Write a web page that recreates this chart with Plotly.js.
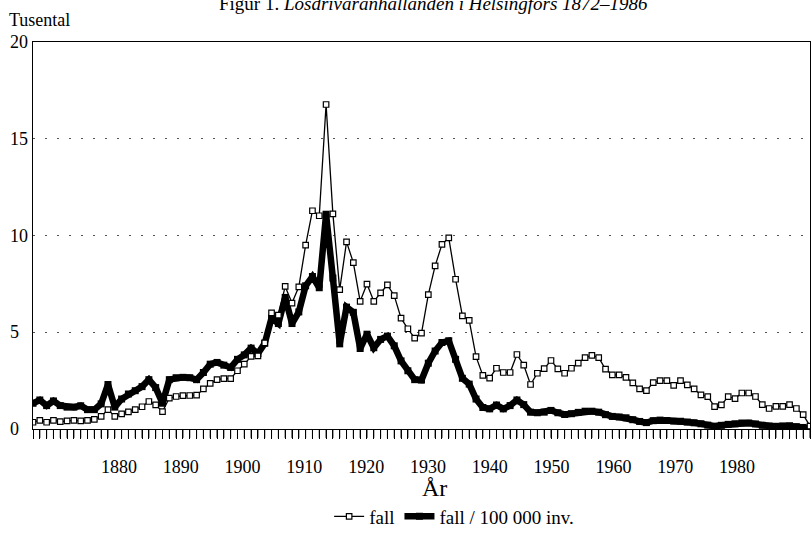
<!DOCTYPE html>
<html><head><meta charset="utf-8">
<script src="https://cdn.plot.ly/plotly-3.0.1.min.js"></script>
<style>html,body{margin:0;padding:0;background:#fff}#chart{width:812px;height:538px}</style>
</head><body><div id="chart"></div>
<script>
const firstYear = 1872;
const lastYear = 1986;

// fall (tusental), 1872–1986
const fall = [
  0.35,0.45,0.35,0.45,0.38,0.42,0.45,0.42,0.45,0.5,
  0.65,1.0,0.65,0.78,0.88,1.0,1.15,1.42,1.25,0.9,
  1.6,1.68,1.72,1.73,1.75,2.07,2.36,2.55,2.6,2.6,
  3.01,3.35,3.75,3.78,4.45,6.0,5.88,7.37,6.51,7.35,
  9.5,11.28,11.02,16.77,11.12,7.2,9.67,8.6,6.6,7.49,
  6.6,7.03,7.45,6.89,5.73,5.18,4.7,4.95,6.94,8.43,
  9.54,9.88,7.74,5.85,5.61,3.74,2.77,2.63,3.14,2.92,
  2.92,3.85,3.3,2.3,2.88,3.12,3.54,3.11,2.88,3.14,
  3.4,3.69,3.8,3.69,3.09,2.8,2.8,2.67,2.38,2.07,
  1.98,2.4,2.5,2.5,2.25,2.5,2.28,2.07,1.76,1.67,
  1.16,1.25,1.67,1.57,1.86,1.86,1.68,1.26,1.06,1.17,
  1.17,1.26,1.06,0.74,0.15
];

// fall / 100 000 inv. (tusental), 1872–1986
const fallPer100k = [
  1.33,1.5,1.21,1.45,1.21,1.13,1.13,1.2,1.0,1.0,
  1.3,2.3,1.13,1.55,1.81,1.98,2.19,2.55,2.14,1.33,
  2.55,2.65,2.67,2.65,2.55,2.92,3.35,3.44,3.3,3.18,
  3.6,3.83,4.18,3.9,4.43,5.74,5.45,6.8,5.45,6.05,
  7.4,7.88,7.3,11.1,7.8,4.4,6.3,6.03,4.16,4.9,
  4.2,4.63,4.8,4.3,3.52,3.01,2.55,2.53,3.4,4.03,
  4.47,4.56,3.6,2.62,2.32,1.55,1.11,1.04,1.24,1.04,
  1.21,1.5,1.26,0.87,0.84,0.87,0.96,0.84,0.75,0.79,
  0.86,0.92,0.92,0.87,0.74,0.65,0.62,0.58,0.48,0.39,
  0.33,0.43,0.46,0.44,0.41,0.4,0.36,0.32,0.27,0.2,
  0.14,0.19,0.24,0.27,0.31,0.31,0.26,0.19,0.16,0.14,
  0.16,0.17,0.12,0.08,0.0
];

const yTicks = [0, 5, 10, 15, 20];
const yTickText = ['0', '5', '10', '15', '20'];
const xLabelYears = [1880, 1890, 1900, 1910, 1920, 1930, 1940, 1950, 1960, 1970, 1980];
const xLabelText = ['1880','1890','1900','1910','1920','1930','1940','1950','1960','1970','1980'];

const years = [];
for (let y = firstYear; y <= lastYear; y++) years.push(y);

const serif = '"Liberation Serif", "DejaVu Serif", serif';

const traces = [
  {
    x: years, y: fallPer100k, name: 'fall / 100 000 inv.',
    type: 'scatter', mode: 'lines+markers',
    line: {color: '#000', width: 6.5},
    marker: {symbol: 'square', size: 7, color: '#000'},
    hoverinfo: 'skip'
  },
  {
    x: years, y: fall, name: 'fall',
    type: 'scatter', mode: 'lines+markers',
    line: {color: '#000', width: 1.3},
    marker: {symbol: 'square', size: 5.5, color: '#fff', line: {color: '#000', width: 1.2}},
    hoverinfo: 'skip'
  },
  {
    x: [], y: [], xaxis: 'x2', yaxis: 'y', type: 'scatter', mode: 'lines',
    showlegend: false, hoverinfo: 'skip'
  }
];

// one short tick mark below the axis for every year, placed by the x axis scale
const yearTickShapes = years.map(yr => ({
  type: 'line', xref: 'x', yref: 'paper',
  x0: yr, x1: yr, y0: 0, y1: -0.023,
  line: {color: '#000', width: 1}
}));

const yLabelAnns = yTicks.map((v, i) => ({
  text: yTickText[i], xref: 'paper', yref: 'y', x: -0.032, y: v,
  xanchor: 'left', yanchor: 'middle', showarrow: false,
  font: {family: serif, size: 18, color: '#000'}
}));

const textAnns = [
  {
    text: 'Figur 1. <i>Lösdrivaranhållanden i Helsingfors 1872–1986</i>',
    xref: 'paper', yref: 'paper', x: 0.516, y: 1.066, xanchor: 'center', yanchor: 'bottom',
    showarrow: false, font: {family: serif, size: 19, color: '#000'}
  },
  {
    text: 'Tusental', xref: 'paper', yref: 'paper', x: -0.034, y: 1.056,
    xanchor: 'left', yanchor: 'middle', showarrow: false,
    font: {family: serif, size: 18, color: '#000'}
  },
  {
    text: 'År', xref: 'paper', yref: 'paper', x: 0.517, y: -0.152,
    xanchor: 'center', yanchor: 'middle', showarrow: false,
    font: {family: serif, size: 24, color: '#000'}
  }
].concat(yLabelAnns);

const layout = {
  width: 812, height: 538,
  margin: {l: 33, r: 2, t: 42, b: 106},
  font: {family: serif, color: '#000', size: 18},
  showlegend: true,
  legend: {
    orientation: 'h', x: 0.542, xanchor: 'center', y: -0.226, yanchor: 'middle',
    traceorder: 'reversed', font: {family: serif, size: 19, color: '#000'},
    itemwidth: 30
  },
  xaxis: {
    range: [firstYear, lastYear], showline: true, mirror: true,
    linecolor: '#000', linewidth: 1,
    tickmode: 'linear', ticks: 'outside', tick0: firstYear, dtick: 1,
    ticklen: 9, tickwidth: 1, tickcolor: '#000',
    showticklabels: false, showgrid: false, zeroline: false
  },
  xaxis2: {
    overlaying: 'x', anchor: 'y', side: 'bottom',
    range: [1866.1, 1991.8],
    tickmode: 'array', tickvals: xLabelYears, ticktext: xLabelText,
    ticks: '', showline: false, showgrid: false, zeroline: false,
    tickfont: {family: serif, size: 18, color: '#000'},
    ticklabelstandoff: 25
  },
  yaxis: {
    range: [0, 20], tickmode: 'array', tickvals: yTicks,
    showline: true, mirror: true, linecolor: '#000', linewidth: 1,
    ticks: '', showticklabels: false,
    showgrid: true, gridcolor: '#555', gridwidth: 1, griddash: '2px,10px',
    zeroline: false
  },
  shapes: yearTickShapes,
  annotations: textAnns
};

Plotly.newPlot('chart', traces, layout, {displayModeBar: false});
</script>
</body></html>
